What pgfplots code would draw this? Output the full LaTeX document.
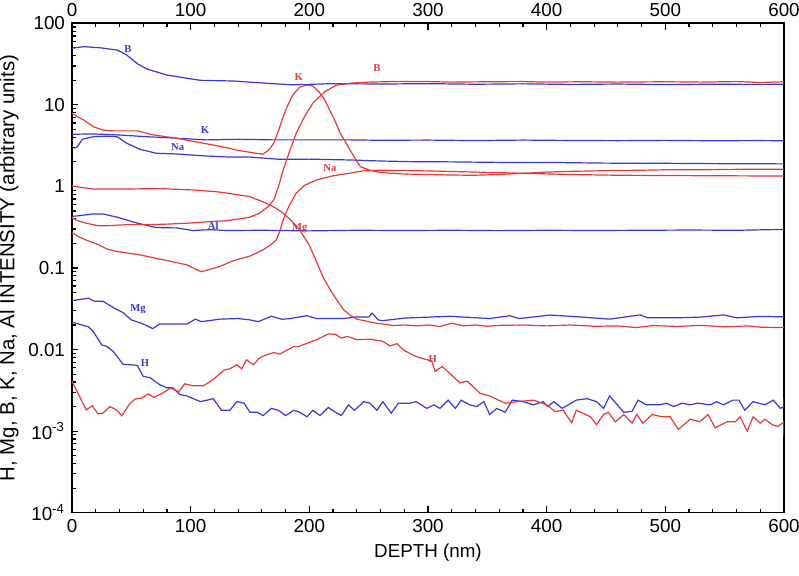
\documentclass[border=0pt]{standalone}
\usepackage{pgfplots}
\pgfplotsset{compat=1.18}
\usepackage{fontspec}
\setmainfont{Liberation Sans}
\newfontfamily\lblfont{Liberation Serif}
\definecolor{cred}{RGB}{232,56,56}
\definecolor{cblue}{RGB}{56,56,214}
\begin{document}
\begin{tikzpicture}
\path[use as bounding box] (-36pt,-31.65pt) rectangle (363.5pt,256.35pt);
\begin{axis}[
  at={(0,0)}, anchor=south west,
  scale only axis, width=356pt, height=244.7pt,
  xmin=0, xmax=600, ymode=log, ymin=1e-4, ymax=100,
  xtick={0,100,200,300,400,500,600}, minor x tick num=4,
  xticklabel pos=lower, ytick pos=left,
  ytick={1e-4,1e-3,1e-2,1e-1,1,10,100},
  yticklabels={10\textsuperscript{-4},10\textsuperscript{-3},0.01,0.1,1,10,100},
  minor ytick={2e-4,3e-4,4e-4,5e-4,6e-4,7e-4,8e-4,9e-4,2e-3,3e-3,4e-3,5e-3,6e-3,7e-3,8e-3,9e-3,2e-2,3e-2,4e-2,5e-2,6e-2,7e-2,8e-2,9e-2,0.2,0.3,0.4,0.5,0.6,0.7,0.8,0.9,2,3,4,5,6,7,8,9,20,30,40,50,60,70,80,90},
  tick align=inside, major tick length=3.2pt, minor tick length=2pt,
  /pgf/number format/assume math mode=true,
  tick label style={font=\fontsize{9.4}{11}\selectfont},
  xlabel style={font=\fontsize{9.4}{11}\selectfont},
  ylabel style={font=\fontsize{10.2}{12}\selectfont},
  xlabel={DEPTH (nm)},
  ylabel={H, Mg, B, K, Na, Al INTENSITY (arbitrary units)},
  xlabel style={at={(axis description cs:0.5,-0.0817)}, anchor=center},
  ylabel style={at={(axis description cs:-0.0885,0.5)}, anchor=center},
  axis line style={line width=0.8pt},
  every tick/.style={black, line width=0.6pt},
  every axis plot/.append style={line width=0.6pt, no markers},
  clip=true,
]
% ---------- blue ----------
\addplot[cblue] table {
0 49.4
10 51.7
24 50
38 47
46 41
55 32
63 27.5
80 23.2
97 21.2
108 20
136 19.6
164 18.4
186 17.6
220 18.2
260 18.0
300 18.2
340 17.9
380 18.1
420 17.8
460 18.0
500 17.7
540 17.9
580 17.8
600 17.9
};
\addplot[cblue] table {
0 4.36
18 4.4
40 4.27
63 4.07
88 3.9
113 3.72
141 3.78
170 3.72
200 3.72
234 3.72
260 3.68
300 3.70
340 3.65
380 3.70
420 3.66
460 3.64
500 3.67
540 3.63
580 3.65
600 3.63
};
\addplot[cblue] table {
2 2.95
4 3.02
9 3.8
18 4.07
29 4.13
38 4.07
46 3.39
57 2.86
71 2.55
88 2.5
111 2.37
133 2.29
150 2.29
175 2.15
200 2.16
234 2.11
260 2.05
287 2.01
320 2.00
360 1.97
400 1.97
450 1.93
500 1.92
550 1.90
600 1.89
};
\addplot[cblue] table {
0 0.43
5 0.436
18 0.46
26 0.46
38 0.42
55 0.355
71 0.313
88 0.31
102 0.288
116 0.295
130 0.288
160 0.29
200 0.285
240 0.29
280 0.288
320 0.29
360 0.287
400 0.29
440 0.288
480 0.29
520 0.292
560 0.29
600 0.297
};
\addplot[cblue] table {
0 0.0398
14 0.0426
19 0.039
26 0.0391
36 0.032
43 0.0284
50 0.0231
60 0.0206
68 0.0181
74 0.0206
97 0.0206
104 0.0236
109 0.022
125 0.0236
140 0.024
150 0.0231
157 0.022
168 0.0256
177 0.0235
184 0.024
198 0.026
206 0.024
229 0.024
238 0.025
250 0.025
253 0.0279
258 0.0231
262 0.0226
280 0.0243
318 0.0256
352 0.024
369 0.026
377 0.024
403 0.0265
430 0.025
453 0.0236
479 0.0266
485 0.0245
510 0.0245
530 0.025
549 0.0266
560 0.0245
580 0.0255
600 0.0252
};
\addplot[cblue] table {
0 0.0217
11 0.0195
14 0.019
18 0.0166
25 0.0114
29 0.011
35 0.0094
43 0.0066
50 0.0065
55 0.0064
60 0.0047
66 0.0045
74 0.0037
80 0.0034
85 0.0034
91 0.0028
97 0.0027
108 0.0023
114 0.0024
119 0.0025
126 0.0018
133 0.0018
139 0.0023
145 0.0022
150 0.0017
156 0.0017
161 0.00155
168 0.0019
174 0.0018
180 0.00155
187 0.0018
192 0.0017
198 0.0015
203 0.0018
209 0.00155
216 0.00195
222 0.0017
227 0.00155
233 0.0021
238 0.0018
246 0.0023
251 0.0022
257 0.0018
262 0.0023
269 0.00166
275 0.0022
285 0.0022
290 0.0023
299 0.0019
305 0.0021
310 0.0019
317 0.0024
323 0.0019
328 0.0024
335 0.0021
341 0.0020
347 0.0023
352 0.0016
358 0.0019
365 0.0017
371 0.0024
380 0.0023
389 0.0021
397 0.0023
401 0.0020
406 0.0023
413 0.0019
425 0.0024
434 0.0025
442 0.0023
448 0.0019
453 0.0027
465 0.0017
472 0.00175
477 0.0024
484 0.0021
495 0.0021
501 0.0022
507 0.0020
514 0.0022
521 0.0021
527 0.0022
538 0.0021
543 0.0023
549 0.0021
557 0.0024
562 0.0024
567 0.0018
574 0.0023
584 0.0021
591 0.0024
597 0.0019
600 0.0020
600 0.0025
};
% ---------- red ----------
\addplot[cred] table {
0 7.9
5 7.1
10 6.5
18 5.4
26 4.9
35 4.8
55 4.8
68 4.3
88 3.9
110 3.4
125 3.1
141 2.75
155 2.55
161 2.48
166 2.8
170 3.4
174 4.8
178 7.2
182 10
186 13.2
192 16.5
198 17.5
203 17
208 14.5
213 11.5
217 8.7
222 6.2
226 4.5
231 3.4
237 2.4
243 1.75
251 1.58
260 1.48
280 1.42
300 1.40
320 1.38
338 1.37
360 1.40
380 1.45
400 1.50
420 1.53
450 1.56
480 1.58
500 1.60
530 1.60
560 1.62
600 1.62
};
\addplot[cred] table {
0 0.41
5 0.38
12 0.354
22 0.33
30 0.33
46 0.34
66 0.34
80 0.345
97 0.354
116 0.37
130 0.38
141 0.40
150 0.42
158 0.47
165 0.56
170 0.68
174 1.0
178 1.6
183 2.6
189 4.5
196 7.2
203 10.5
213 14.5
223 17.5
234 18.4
250 19
270 19.3
300 19.3
320 19.0
350 19.2
380 19.3
400 19.0
430 19.2
460 19.0
500 19.2
530 19.0
560 19.3
580 18.8
600 19.2
};
\addplot[cred] table {
0 0.27
6 0.24
12 0.22
21 0.197
30 0.17
38 0.159
57 0.145
77 0.126
90 0.115
97 0.109
104 0.097
109 0.090
115 0.095
125 0.105
136 0.123
150 0.14
161 0.167
167 0.19
172 0.22
175 0.28
178 0.39
183 0.58
189 0.83
196 1.03
206 1.2
220 1.35
234 1.45
245 1.55
260 1.58
300 1.55
340 1.5
380 1.45
420 1.40
460 1.37
500 1.36
550 1.35
600 1.34
};
\addplot[cred] table {
0 1.01
18 0.93
46 0.93
74 0.94
102 0.905
122 0.86
130 0.83
150 0.75
164 0.62
171 0.55
178 0.47
185 0.38
192 0.29
200 0.19
206 0.12
212 0.075
218 0.053
223 0.041
229 0.0306
235 0.026
240 0.0236
250 0.022
257 0.021
271 0.0197
280 0.020
290 0.0195
300 0.020
310 0.0192
320 0.021
330 0.0195
340 0.020
350 0.0193
360 0.0198
380 0.020
400 0.0195
420 0.0200
440 0.0193
460 0.0195
475 0.0186
490 0.0197
510 0.0192
530 0.0198
550 0.0190
570 0.0195
580 0.0188
600 0.0186
};
\addplot[cred] table {
0 0.0041
12 0.00182
17 0.00204
22 0.00163
26 0.00166
32 0.0020
38 0.0018
42 0.00154
48 0.0021
53 0.00247
59 0.00254
64 0.00286
69 0.0026
76 0.0029
83 0.00337
90 0.00305
95 0.0038
102 0.0036
111 0.0036
119 0.0043
128 0.0056
133 0.0058
139 0.0065
143 0.0058
147 0.0075
153 0.0065
158 0.0079
164 0.0086
170 0.0092
175 0.0088
187 0.0109
191 0.0109
206 0.0132
216 0.0155
222 0.0154
227 0.0138
232 0.0145
240 0.0132
251 0.0134
262 0.0126
268 0.0111
274 0.0118
279 0.0099
290 0.0082
299 0.0075
303 0.0073
306 0.0054
312 0.0062
327 0.0039
333 0.0041
344 0.0029
352 0.0027
365 0.0022
375 0.0023
389 0.0024
400 0.0021
407 0.00174
414 0.0018
421 0.00127
425 0.0018
437 0.0015
442 0.0012
448 0.0016
452 0.0017
458 0.0013
465 0.0016
472 0.00125
476 0.0016
481 0.00125
489 0.0016
497 0.0015
504 0.0015
511 0.00105
521 0.0014
529 0.0013
536 0.0016
542 0.0011
552 0.0013
559 0.0013
563 0.0015
569 0.0010
574 0.0015
580 0.00125
584 0.0014
590 0.0012
595 0.00114
600 0.0013
600 0.0009
};
% ---------- labels ----------
\begin{scope}[every node/.style={font=\lblfont\bfseries\fontsize{5.3}{6}\selectfont, inner sep=0pt}]
\node[text=cblue] at (axis cs:47.2,48.4) {B};
\node[text=cblue] at (axis cs:112,4.9) {K};
\node[text=cblue] at (axis cs:89,3.04) {Na};
\node[text=cblue] at (axis cs:119,0.33) {Al};
\node[text=cblue] at (axis cs:55.6,0.031) {Mg};
\node[text=cblue] at (axis cs:61.5,0.0069) {H};
\node[text=cred] at (axis cs:191,21.9) {K};
\node[text=cred] at (axis cs:257,28.2) {B};
\node[text=cred] at (axis cs:217.4,1.69) {Na};
\node[text=cred] at (axis cs:192,0.31) {Mg};
\node[text=cred] at (axis cs:304,0.0077) {H};
\end{scope}
\end{axis}
\begin{axis}[
  at={(0,0)}, anchor=south west,
  scale only axis, width=356pt, height=244.7pt,
  xmin=0, xmax=600, ymin=0, ymax=1,
  axis line style={draw=none},
  xtick={0,100,200,300,400,500,600},
  xticklabel pos=upper, xtick pos=upper,
  ytick=\empty, major tick length=0pt,
  /pgf/number format/assume math mode=true,
  tick label style={font=\fontsize{9.4}{11}\selectfont},
]
\end{axis}
\end{tikzpicture}
\end{document}
